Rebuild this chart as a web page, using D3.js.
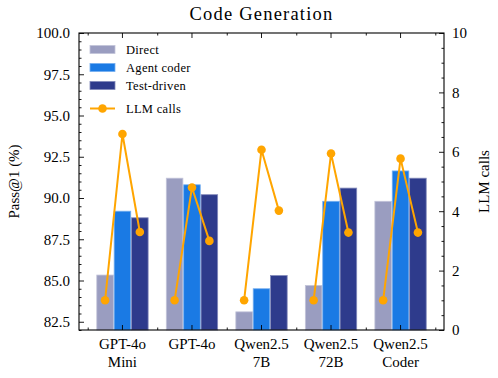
<!DOCTYPE html>
<html>
<head>
<meta charset="utf-8">
<script src="https://cdn.jsdelivr.net/npm/d3@7"></script>
<style>
  body { margin: 0; background: #fff; }
  svg { display: block; }
  svg text { font-family: "Liberation Serif", "Times New Roman", Times, "DejaVu Serif", serif; }
</style>
</head>
<body>
<svg width="498" height="378"></svg>
<script>
// data
const groups = ["GPT-4o\nMini", "GPT-4o", "Qwen2.5\n7B", "Qwen2.5\n72B", "Qwen2.5\nCoder"];
const seriesNames = ["Direct", "Agent coder", "Test-driven"];
const direct = [85.33, 91.2, 83.1, 84.7, 89.8];
const agentCoder = [89.2, 90.8, 84.5, 89.8, 91.64];
const testDriven = [88.8, 90.2, 85.3, 90.6, 91.2];
// LLM calls, one point per bar (Direct, Agent coder, Test-driven)
const llmCalls = [
    [1, 6.6, 3.3],
    [1, 4.8, 3.0],
    [1, 6.07, 4.02],
    [1, 5.94, 3.28],
    [1, 5.77, 3.28]
];
const leftTicks = [82.5, 85.0, 87.5, 90.0, 92.5, 95.0, 97.5, 100.0];
const rightTicks = [0, 2, 4, 6, 8, 10];

const color = d3.scaleOrdinal()
    .domain(seriesNames)
    .range(["#9a9dc0", "#1a7ae4", "#2e3b8c"]);
const lineColor = "#ffa500";

let plotLeft = 79, plotRight = 444, plotTop = 33, plotBottom = 330;

const svg = d3.select("svg");

// scales
const x0 = d3.scaleBand()
    .domain(groups)
    .range([plotLeft, plotRight])
    .paddingInner(0.25)
    .paddingOuter(0.25);
const x1 = d3.scaleBand()
    .domain(seriesNames)
    .range([0, x0.bandwidth()]);
// index scale for the minor ticks between groups
const xIdx = d3.scaleLinear()
    .domain([0, groups.length - 1])
    .range([x0(groups[0]) + x0.bandwidth() / 2, x0(groups[groups.length - 1]) + x0.bandwidth() / 2]);

const yL = d3.scaleLinear().domain([82, 100]).range([plotBottom, plotTop]);
const yR = d3.scaleLinear().domain([0, 10]).range([plotBottom, plotTop]);

// bars
const values = {"Direct": direct, "Agent coder": agentCoder, "Test-driven": testDriven};
const edge = s => d3.interpolateRgb(color(s), "#ffffff")(0.4);
const barG = svg.append("g");
groups.forEach(function(g, i) {
    seriesNames.forEach(function(s) {
        barG.append("rect")
            .attr("x", x0(g) + x1(s) + 0.4)
            .attr("y", yL(values[s][i]))
            .attr("width", x1.bandwidth() - 0.8)
            .attr("height", yL(82) - yL(values[s][i]))
            .attr("fill", color(s))
            .attr("stroke", edge(s))
            .attr("stroke-width", 0.8);
    });
});

// LLM calls lines (one per group)
const line = d3.line()
    .x(d => d[0])
    .y(d => yR(d[1]));
groups.forEach(function(g, i) {
    const pts = seriesNames.map((s, j) => [x0(g) + x1(s) + x1.bandwidth() / 2, llmCalls[i][j]]);
    svg.append("path")
        .attr("d", line(pts))
        .attr("fill", "none")
        .attr("stroke", lineColor)
        .attr("stroke-width", 2);
    svg.selectAll(null)
        .data(pts)
        .enter().append("circle")
        .attr("cx", d => d[0])
        .attr("cy", d => yR(d[1]))
        .attr("r", 4.3)
        .attr("fill", lineColor);
});

// frame
svg.append("rect")
    .attr("x", plotLeft).attr("y", plotTop)
    .attr("width", plotRight - plotLeft).attr("height", plotBottom - plotTop)
    .attr("fill", "none").attr("stroke", "black").attr("stroke-width", 1.1);

function styleAxis(sel) {
    sel.attr("font-family", null);
    sel.select(".domain").remove();
    sel.selectAll("line").attr("stroke", "black").attr("stroke-width", 0.9);
    sel.selectAll("text").attr("font-size", "15px").attr("fill", "black");
}

// left axis
const minorL = d3.range(82, 100.01, 0.5).filter(v => Math.abs((v - 82.5) / 2.5 - Math.round((v - 82.5) / 2.5)) > 1e-6);
svg.append("g").attr("transform", `translate(${plotLeft},0)`)
    .call(d3.axisLeft(yL).tickValues(leftTicks).tickSizeInner(-5).tickSizeOuter(0)
        .tickPadding(9).tickFormat(d3.format(".1f")))
    .call(styleAxis);
svg.append("g").attr("transform", `translate(${plotLeft},0)`)
    .call(d3.axisLeft(yL).tickValues(minorL).tickSizeInner(-2.5).tickSizeOuter(0).tickFormat(""))
    .call(styleAxis);

// right axis
const minorR = d3.range(0.5, 10, 0.5).filter(v => v % 2 !== 0);
svg.append("g").attr("transform", `translate(${plotRight},0)`)
    .call(d3.axisRight(yR).tickValues(rightTicks).tickSizeInner(-5).tickSizeOuter(0).tickPadding(8))
    .call(styleAxis);
svg.append("g").attr("transform", `translate(${plotRight},0)`)
    .call(d3.axisRight(yR).tickValues(minorR).tickSizeInner(-2.5).tickSizeOuter(0).tickFormat(""))
    .call(styleAxis);

// bottom axis
const xb = svg.append("g").attr("transform", `translate(0,${plotBottom})`)
    .call(d3.axisBottom(x0).tickSizeInner(-5).tickSizeOuter(0).tickPadding(10).tickFormat(""))
    .call(styleAxis);
xb.selectAll(".tick").append("text")
    .attr("text-anchor", "middle")
    .attr("font-size", "15px")
    .attr("fill", "black")
    .each(function(d) {
        const lines = d.split("\n");
        lines.forEach((t, k) => {
            d3.select(this).append("tspan")
                .attr("x", 0)
                .attr("y", 19 + k * 18)
                .text(t);
        });
    });
const minorX = d3.range(-0.5, groups.length, 1);
svg.append("g").attr("transform", `translate(0,${plotBottom})`)
    .call(d3.axisBottom(xIdx).tickValues(minorX).tickSizeInner(-2.5).tickSizeOuter(0).tickFormat(""))
    .call(styleAxis);
// top axis
svg.append("g").attr("transform", `translate(0,${plotTop})`)
    .call(d3.axisTop(x0).tickSizeInner(-5).tickSizeOuter(0).tickFormat(""))
    .call(styleAxis);
svg.append("g").attr("transform", `translate(0,${plotTop})`)
    .call(d3.axisTop(xIdx).tickValues(minorX).tickSizeInner(-2.5).tickSizeOuter(0).tickFormat(""))
    .call(styleAxis);

// axis labels
svg.append("text")
    .attr("transform", `translate(19,${(plotTop + plotBottom) / 2}) rotate(-90)`)
    .attr("text-anchor", "middle")
    .attr("font-size", "15px")
    .text("Pass@1 (%)");
svg.append("text")
    .attr("transform", `translate(489,${(plotTop + plotBottom) / 2}) rotate(-90)`)
    .attr("text-anchor", "middle")
    .attr("font-size", "15px")
    .text("LLM calls");

// title
svg.append("text")
    .attr("x", (plotLeft + plotRight) / 2)
    .attr("y", 20)
    .attr("text-anchor", "middle")
    .attr("font-size", "18.5px")
    .attr("letter-spacing", "1.2px")
    .text("Code Generation");

// legend
const legX = 90, legW = 25, legTextX = 126;
const legY = [49.5, 67.5, 85.5];
seriesNames.forEach(function(s, i) {
    svg.append("rect")
        .attr("x", legX).attr("y", legY[i] - 4)
        .attr("width", legW).attr("height", 8)
        .attr("fill", color(s))
        .attr("stroke", edge(s))
        .attr("stroke-width", 0.8);
    svg.append("text")
        .attr("x", legTextX).attr("y", legY[i])
        .attr("dy", "0.35em")
        .attr("font-size", "12.5px")
        .attr("letter-spacing", "0.3px")
        .text(s);
});
svg.append("line")
    .attr("x1", legX).attr("x2", legX + legW)
    .attr("y1", 108.5).attr("y2", 108.5)
    .attr("stroke", lineColor).attr("stroke-width", 2);
svg.append("circle")
    .attr("cx", legX + legW / 2).attr("cy", 108.5).attr("r", 4.3)
    .attr("fill", lineColor);
svg.append("text")
    .attr("x", legTextX).attr("y", 108.5)
    .attr("dy", "0.35em")
    .attr("font-size", "12.5px")
    .attr("letter-spacing", "0.3px")
    .text("LLM calls");
</script>
</body>
</html>
